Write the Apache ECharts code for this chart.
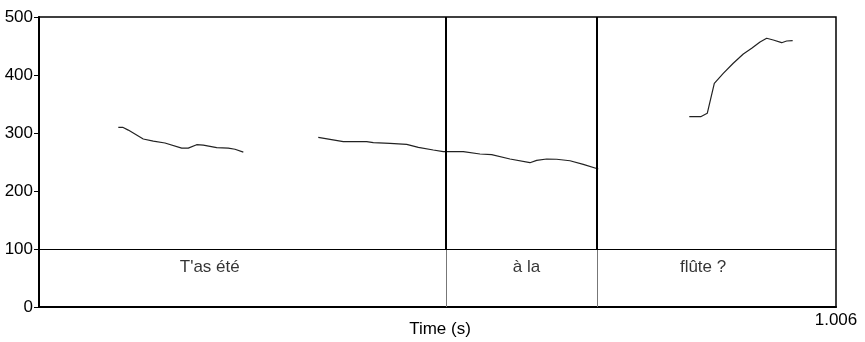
<!DOCTYPE html>
<html><head><meta charset="utf-8">
<script src="https://cdn.jsdelivr.net/npm/echarts@6/dist/echarts.min.js"></script>
<style>html,body{margin:0;padding:0;background:#fff}#c{width:865px;height:342px}</style>
</head><body><div id="c"></div>
<script>
// Pitch contour segments: [time (s), pitch (Hz)]
const seg1 = [[0.1001,309.8],[0.1056,309.8],[0.1127,305],[0.1316,289.7],[0.1443,286],[0.159,282.8],[0.1801,274],[0.1884,274],[0.199,279.8],[0.2074,279],[0.2243,274.7],[0.2389,274],[0.2474,272],[0.2579,267]];
const seg2 = [[0.3525,292.6],[0.3841,285],[0.4136,285],[0.422,283.3],[0.443,282.2],[0.4641,280.5],[0.4788,275.3],[0.4977,270.7],[0.5103,267.8],[0.5356,267.8],[0.5566,263.8],[0.5714,262.6],[0.5945,255.2],[0.6197,248.8],[0.6282,252.9],[0.6408,255.2],[0.6534,254.7],[0.6702,252.2],[0.687,246],[0.7059,237.9]];
const seg3 = [[0.8208,328.1],[0.8352,328.1],[0.8435,334],[0.8524,385.7],[0.8637,402.9],[0.8763,420.2],[0.889,436.2],[0.8996,446],[0.9101,456.9],[0.9185,463.3],[0.9268,460.3],[0.9374,455.7],[0.9437,458.6],[0.9513,459.1]];
// Tier boundaries (s) and tier labels
const boundaries = [0.5137, 0.7043];
const tierLabels = ["T'as été", "à la", "flûte ?"];
const tierLabelTimes = [0.2155, 0.6154, 0.8382];
const tierLabelY = 69;
const tierLine = 100;
const yTicks = [0, 100, 200, 300, 400, 500];
const tMax = 1.006;

const FONT = 'Liberation Sans, Arial, sans-serif';
const chart = echarts.init(document.getElementById('c'), null, {renderer: 'canvas'});

const upperLines = boundaries.map(t => [{coord: [t, tierLine]}, {coord: [t, 500]}]);
const lowerLines = boundaries.map(t => [{coord: [t, 0]}, {coord: [t, tierLine]}]);
const lineStyle = {color: '#222', width: 1.2};

chart.setOption({
  animation: false,
  backgroundColor: '#fff',
  grid: {left: 39, right: 29, top: 17, bottom: 35, containLabel: false, outerBoundsMode: 'none',
    show: true, borderColor: '#000', borderWidth: 1.5, backgroundColor: 'transparent'},
  xAxis: {
    type: 'value', min: 0, max: tMax, interval: tMax,
    name: 'Time (s)', nameLocation: 'middle', nameGap: 14, nameMoveOverlap: false,
    nameTextStyle: {fontFamily: FONT, fontSize: 17, color: '#000', padding: [0, 0, 0, 5], verticalAlign: 'top'},
    axisLine: {show: true, lineStyle: {color: '#000', width: 2}},
    axisTick: {show: false},
    splitLine: {show: false},
    axisLabel: {fontFamily: FONT, fontSize: 17, color: '#000', margin: 5,
      formatter: v => (Math.abs(v - tMax) < 1e-6 ? '1.006' : '')}
  },
  yAxis: {
    type: 'value', min: yTicks[0], max: yTicks[yTicks.length - 1], interval: 100,
    axisLine: {show: true, lineStyle: {color: '#000', width: 2}},
    axisTick: {show: true, length: 5, lineStyle: {color: '#000', width: 1}},
    splitLine: {show: false},
    axisLabel: {fontFamily: FONT, fontSize: 17, color: '#000', margin: 6}
  },
  series: [
    {type: 'line', data: seg1, showSymbol: false, symbol: 'none', lineStyle: lineStyle, silent: true},
    {type: 'line', data: seg2, showSymbol: false, symbol: 'none', lineStyle: lineStyle, silent: true},
    {type: 'line', data: seg3, showSymbol: false, symbol: 'none', lineStyle: lineStyle, silent: true},
    {type: 'line', data: [], silent: true,
      markLine: {symbol: 'none', silent: true, label: {show: false},
        lineStyle: {color: '#000', width: 2, type: 'solid'}, data: upperLines}},
    {type: 'line', data: [], silent: true,
      markLine: {symbol: 'none', silent: true, label: {show: false},
        lineStyle: {color: '#777', width: 1, type: 'solid'}, data: lowerLines}},
    {type: 'line', data: [], silent: true,
      markLine: {symbol: 'none', silent: true, label: {show: false},
        lineStyle: {color: '#000', width: 1.2, type: 'solid'}, data: [{yAxis: tierLine}]}},
    {type: 'scatter', symbolSize: 0, silent: true,
      data: tierLabels.map((s, i) => ({name: s, value: [tierLabelTimes[i], tierLabelY]})),
      label: {show: true, position: 'inside', formatter: p => p.name, fontFamily: FONT, fontSize: 17, color: '#000'}}
  ]
});
</script></body></html>
